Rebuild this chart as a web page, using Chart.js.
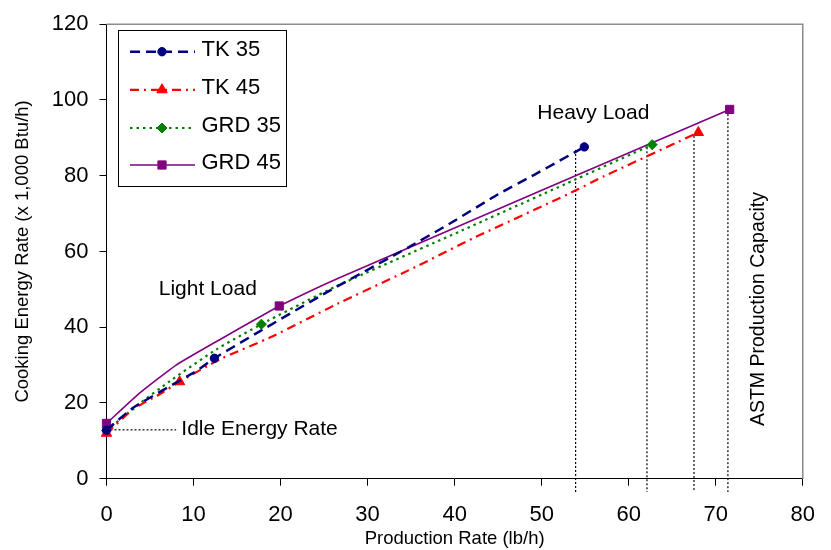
<!DOCTYPE html>
<html><head><meta charset="utf-8">
<script src="https://cdn.jsdelivr.net/npm/chart.js@4/dist/chart.umd.min.js"></script>
<style>html,body{margin:0;padding:0;background:#fff}canvas{display:block}</style>
</head><body>
<canvas id="c" width="831" height="550"></canvas>
<script>
// ---------- data ----------
const seriesNames = ['TK 35', 'TK 45', 'GRD 35', 'GRD 45'];

const tk35X = [0, 3.1, 10.3, 12.4, 17.6, 25.6, 34.7, 39.7, 45.0, 49.2, 54.9];
const tk35Y = [12.8, 18.8, 28.4, 31.8, 38.9, 49.6, 61.1, 67.7, 75.1, 80.3, 87.6];
const tk35Marked = [0, 3, 10];

const tk45X = [0, 3.1, 6.1, 8.4, 13.0, 19.1, 26.2, 35.5, 42.4, 53.0, 57.2, 68.0];
const tk45Y = [12.0, 18.4, 22.3, 25.6, 31.5, 37.6, 45.8, 55.9, 63.8, 75.1, 79.9, 91.4];
const tk45Marked = [0, 3, 11];

const grd35X = [0, 3.5, 7.3, 12.6, 17.8, 26.2, 40.8, 53.0, 62.7];
const grd35Y = [12.7, 19.3, 25.8, 34.1, 40.8, 50.6, 65.5, 78.1, 88.2];
const grd35Marked = [0, 4, 8];

const grd45X = [0, 3.8, 8.0, 13.0, 17.9, 19.85, 26.7, 71.6];
const grd45Y = [14.6, 22.6, 30.0, 36.7, 43.1, 45.6, 53.0, 97.5];
const grd45Marked = [0, 5, 7];

const capacityX = [53.9, 62.1, 67.5, 71.4];
const capacityTopY = [86.8, 87.5, 90.5, 97.3];
const capacityBottomY = -3.5;

const idleLineX = [0, 8.0];
const idleLineY = 12.9;

const xTicks = [0, 10, 20, 30, 40, 50, 60, 70, 80];
const yTicks = [0, 20, 40, 60, 80, 100, 120];

const xTitle = 'Production Rate (lb/h)';
const yTitle = 'Cooking Energy Rate (x 1,000 Btu/h)';
const annotationTexts = ['Light Load', 'Heavy Load', 'Idle Energy Rate', 'ASTM Production Capacity'];

// ---------- chart ----------
const F = '"Liberation Sans", Arial, Helvetica, sans-serif';
Chart.defaults.font.family = F;
Chart.defaults.color = '#000';

const pts = (xs, ys) => xs.map((x, i) => ({x: x, y: ys[i]}));
const radiusFor = (marked, r) => (c) => marked.includes(c.dataIndex) ? r : 0;

function series(name, xs, ys, marked, color, dash, width, style, r) {
  return {
    label: name, data: pts(xs, ys), showLine: true,
    borderColor: color, backgroundColor: color, borderWidth: width, borderDash: dash,
    pointStyle: style, pointRadius: radiusFor(marked, r), pointHoverRadius: radiusFor(marked, r),
    pointBorderWidth: 1, pointBackgroundColor: color, pointBorderColor: color,
    tension: 0.15, clip: false, legendRadius: r
  };
}

const datasets = [
  series(seriesNames[0], tk35X, tk35Y, tk35Marked, '#000080', [10, 6], 2.5, 'circle', 4.2),
  series(seriesNames[1], tk45X, tk45Y, tk45Marked, '#ff0000', [9, 5, 2, 5], 2.2, 'triangle', 6),
  series(seriesNames[2], grd35X, grd35Y, grd35Marked, '#008000', [2.5, 4], 2.2, 'rectRot', 5),
  series(seriesNames[3], grd45X, grd45Y, grd45Marked, '#800080', [], 1.6, 'rect', 5.8)
];
capacityX.forEach((cx, i) => {
  datasets.push({
    label: 'cap' + i, data: [{x: cx, y: capacityTopY[i]}, {x: cx, y: capacityBottomY}],
    showLine: true, borderColor: '#000', borderWidth: 1.2, borderDash: [2, 2],
    pointRadius: 0, pointHoverRadius: 0, clip: false
  });
});
datasets.push({
  label: 'idle', data: idleLineX.map(x => ({x: x, y: idleLineY})),
  showLine: true, borderColor: '#000', borderWidth: 1.2, borderDash: [2, 2],
  pointRadius: 0, pointHoverRadius: 0, clip: false
});

const overlay = {
  id: 'overlay',
  beforeDatasetsDraw(chart) {
    const {ctx, chartArea: a} = chart;
    ctx.save();
    ctx.strokeStyle = '#8c8c8c'; ctx.lineWidth = 1.5;
    ctx.beginPath();
    ctx.moveTo(a.left, a.top); ctx.lineTo(a.right, a.top); ctx.lineTo(a.right, a.bottom);
    ctx.stroke();
    ctx.restore();
  },
  afterDraw(chart) {
    const {ctx} = chart;
    const xs = chart.scales.x, ys = chart.scales.y;
    ctx.save();
    ctx.fillStyle = '#000';
    ctx.font = '21px ' + F;
    ctx.textAlign = 'left'; ctx.textBaseline = 'alphabetic';
    ctx.fillText(annotationTexts[0], xs.getPixelForValue(6.0), ys.getPixelForValue(48.5));
    ctx.fillText(annotationTexts[1], xs.getPixelForValue(49.5), ys.getPixelForValue(94.9));
    ctx.fillText(annotationTexts[2], xs.getPixelForValue(8.6), ys.getPixelForValue(11.6));
    ctx.save();
    ctx.translate(xs.getPixelForValue(75.6), ys.getPixelForValue(44.8));
    ctx.rotate(-Math.PI / 2);
    ctx.font = '19.5px ' + F;
    ctx.textAlign = 'center';
    ctx.fillText(annotationTexts[3], 0, 0);
    ctx.restore();

    // legend box
    ctx.fillStyle = '#fff';
    ctx.fillRect(118.5, 30.5, 168, 156);
    ctx.strokeStyle = '#000'; ctx.lineWidth = 1;
    ctx.strokeRect(118.5, 30.5, 168, 156);
    const rows = [51.7, 89.8, 128, 165];
    for (let i = 0; i < 4; i++) {
      const ds = chart.data.datasets[i];
      const ry = rows[i];
      ctx.save();
      ctx.strokeStyle = ds.borderColor; ctx.lineWidth = ds.borderWidth;
      ctx.setLineDash(ds.borderDash || []);
      ctx.beginPath(); ctx.moveTo(130, ry); ctx.lineTo(195, ry); ctx.stroke();
      ctx.setLineDash([]);
      ctx.fillStyle = ds.borderColor; ctx.strokeStyle = ds.borderColor; ctx.lineWidth = 1;
      Chart.helpers.drawPoint(ctx, {pointStyle: ds.pointStyle, radius: ds.legendRadius, rotation: 0, borderWidth: 1}, 162, ry);
      ctx.restore();
      ctx.fillStyle = '#000';
      ctx.font = '22px ' + F;
      ctx.textAlign = 'left'; ctx.textBaseline = 'middle';
      ctx.fillText(ds.label, 201.5, ry - 2);
    }
    ctx.restore();
  }
};

new Chart(document.getElementById('c'), {
  type: 'scatter',
  data: {datasets: datasets},
  options: {
    responsive: false, animation: false, devicePixelRatio: 1,
    layout: {padding: {top: 20, right: 25.7, left: 0, bottom: 0}},
    plugins: {legend: {display: false}, tooltip: {enabled: false}},
    scales: {
      x: {
        type: 'linear', min: 0, max: 80,
        afterBuildTicks: s => { s.ticks = xTicks.map(v => ({value: v})); },
        afterFit: s => { s.height = 71.3; },
        grid: {drawOnChartArea: false, drawTicks: true, tickLength: 7, color: '#000'},
        border: {color: '#000', width: 1},
        ticks: {font: {size: 22}, color: '#000', padding: 16, maxRotation: 0},
        title: {display: true, text: xTitle, font: {size: 18.5}, color: '#000', padding: {top: 0, bottom: 0}}
      },
      y: {
        type: 'linear', min: 0, max: 120,
        afterBuildTicks: s => { s.ticks = yTicks.map(v => ({value: v})); },
        afterFit: s => { s.width = 106.5; },
        grid: {drawOnChartArea: false, drawTicks: true, tickLength: 7, color: '#000'},
        border: {color: '#000', width: 1},
        ticks: {font: {size: 22}, color: '#000', padding: 11},
        title: {display: true, text: yTitle, font: {size: 18.5}, color: '#000', padding: {top: 11.5, bottom: 0}}
      }
    }
  },
  plugins: [overlay]
});
</script>
</body></html>
